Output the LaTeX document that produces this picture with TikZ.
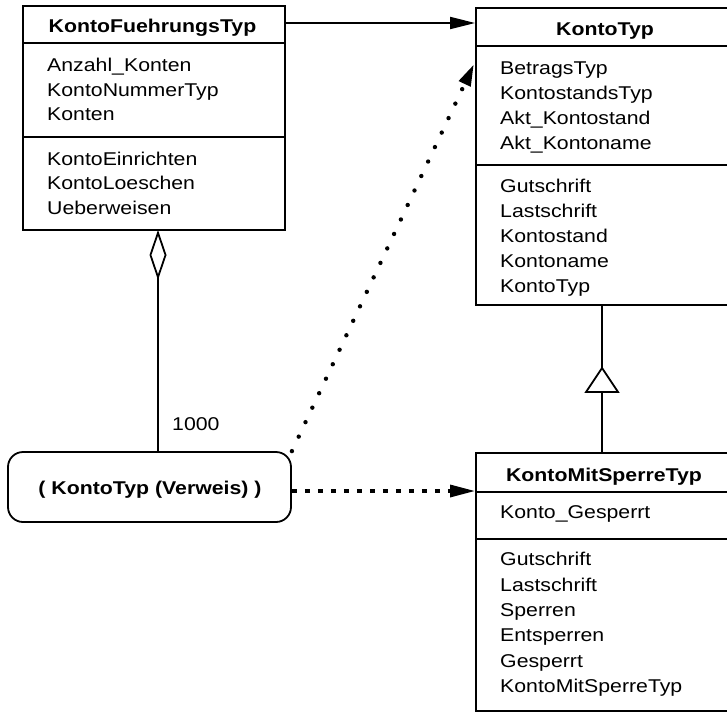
\documentclass[tikz,border=0pt]{standalone}
\usepackage{fontspec}
\setmainfont{Liberation Sans}[FakeStretch=1.15]
\usetikzlibrary{arrows.meta,calc}

\begin{document}
\begin{tikzpicture}[x=1pt,y=-1pt,
  umlbox/.style={draw, line width=1.8pt, rectangle, inner sep=0pt},
  divider/.style={line width=1.8pt},
  member/.style={anchor=base west, inner sep=0pt, font=\fontsize{18.5}{24}\selectfont},
  classname/.style={anchor=base, inner sep=0pt, font=\fontsize{18.5}{24}\selectfont\bfseries},
  assoc/.style={line width=1.8pt, -{Triangle[length=25pt,width=12pt]}},
  depdots/.style={line width=4.4pt, line cap=round, dash pattern=on 0pt off 16pt,
                  -{Triangle[length=22pt,width=12pt,line cap=butt]}},
  depdash/.style={line width=3.2pt, dash pattern=on 5pt off 8pt,
                  -{Triangle[length=25pt,width=12pt]}},
  aggr/.style={line width=1.8pt, {Diamond[open,fill=white,length=50pt,width=17pt]}-},
  gen/.style={line width=1.8pt}
]
\useasboundingbox (0,0) rectangle (727,713);
\clip (0,0) rectangle (727,713);

% class boxes
\node[umlbox, minimum width=262pt, minimum height=224pt] (kft) at (154,118) {};
\node[umlbox, minimum width=254pt, minimum height=297pt] (kt) at (603,156.5) {};
\node[umlbox, minimum width=254pt, minimum height=258pt] (kmst) at (603,582) {};
\node[umlbox, rounded corners=15pt, minimum width=283pt, minimum height=70pt] (ref) at (149.5,487) {};

% compartment lines
\draw[divider] (kft.west |- 0,43) -- (kft.east |- 0,43);
\draw[divider] (kft.west |- 0,137) -- (kft.east |- 0,137);
\draw[divider] (kt.west |- 0,46) -- (kt.east |- 0,46);
\draw[divider] (kt.west |- 0,165) -- (kt.east |- 0,165);
\draw[divider] (kmst.west |- 0,492) -- (kmst.east |- 0,492);
\draw[divider] (kmst.west |- 0,539) -- (kmst.east |- 0,539);

% KontoFuehrungsTyp
\node[classname] (kftname) at (152.5,32.7) {KontoFuehrungsTyp};
\foreach \t [count=\i] in {Anzahl\_Konten, KontoNummerTyp, Konten}
  \node[member] (kfta\i) at (47,{71.5+24.5*(\i-1)}) {\t};
\foreach \t [count=\i] in {KontoEinrichten, KontoLoeschen, Ueberweisen}
  \node[member] (kftm\i) at (47,{165+24.5*(\i-1)}) {\t};

% KontoTyp
\node[classname] (ktname) at (605,35) {KontoTyp};
\foreach \t [count=\i] in {BetragsTyp, KontostandsTyp, Akt\_Kontostand, Akt\_Kontoname}
  \node[member] (kta\i) at (500,{74+25*(\i-1)}) {\t};
\foreach \t [count=\i] in {Gutschrift, Lastschrift, Kontostand, Kontoname, KontoTyp}
  \node[member] (ktm\i) at (500,{192+25*(\i-1)}) {\t};

% KontoMitSperreTyp
\node[classname] (kmstname) at (604,481.7) {KontoMitSperreTyp};
\node[member] (kmsta1) at (500,518) {Konto\_Gesperrt};
\foreach \t [count=\i] in {Gutschrift, Lastschrift, Sperren, Entsperren, Gesperrt, KontoMitSperreTyp}
  \node[member] (kmstm\i) at (500,{565.7+25.4*(\i-1)}) {\t};

% reference element
\node[classname] (refname) at (150,494) {( KontoTyp (Verweis) )};
\node[member] (mult) at (172,430) {1000};

% association
\draw[assoc] (kft.east |- 0,23) -- (kt.west |- 0,23);

% aggregation
\coordinate (aggtop) at (158,230);
\draw[aggr] (aggtop) -- (aggtop |- ref.north);

% dependencies
\coordinate (deptip) at (474,64);
\draw[depdots] (ref.north east) -- (deptip);
\draw[depdash] (ref.east |- 0,491) -- (kmst.west |- 0,491);

% generalization
\coordinate (genbase) at (602,392);
\coordinate (genapex) at (602,368);
\draw[gen] (kmst.north -| genbase) -- (genbase);
\draw[gen, fill=white, line join=miter] (genapex) -- ($(genbase)+(16,0)$) -- ($(genbase)+(-16,0)$) -- cycle;
\draw[gen] (genapex) -- (genapex |- kt.south);
\end{tikzpicture}
\end{document}
